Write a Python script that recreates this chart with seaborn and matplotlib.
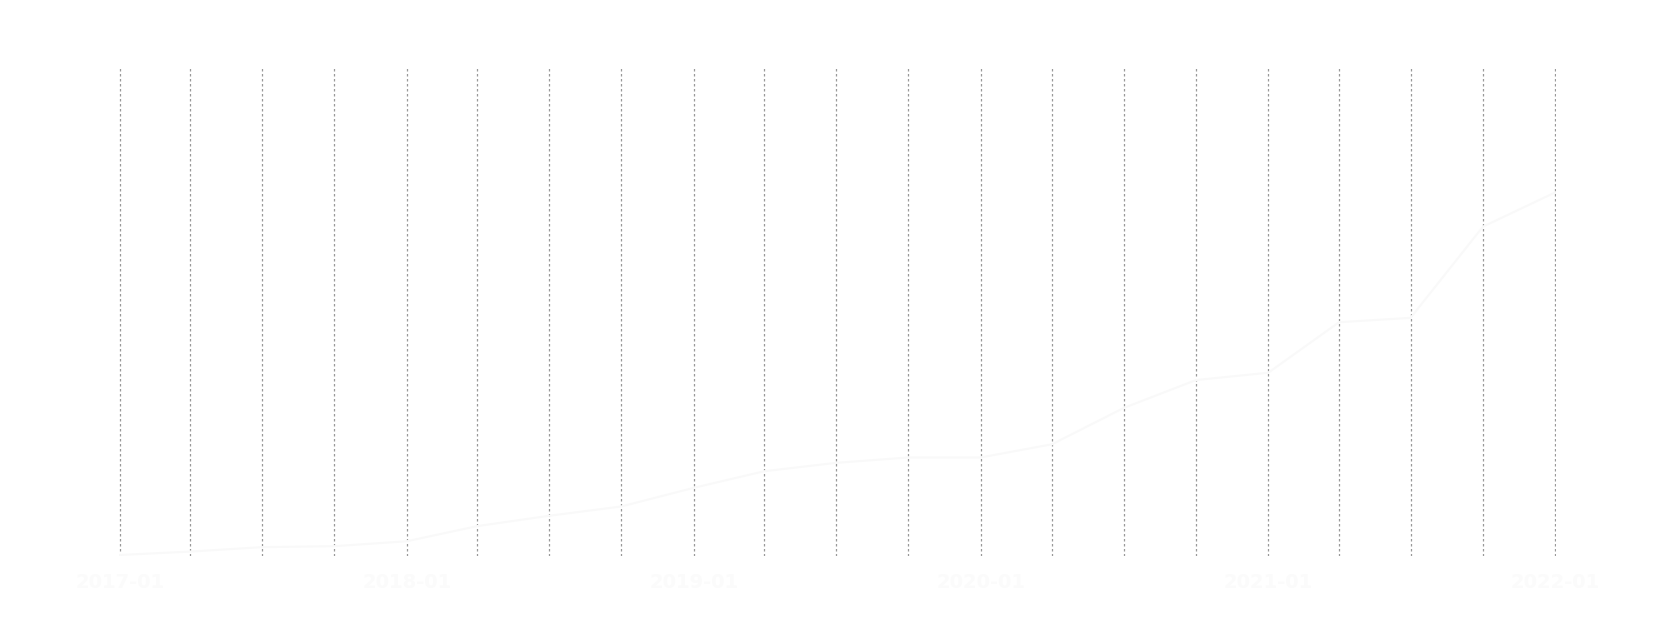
import pandas as pd
import matplotlib
matplotlib.use("Agg")
import matplotlib.pyplot as plt
import matplotlib.dates as mdates
import seaborn as sns

quarters = [
    "2017-01", "2017-04", "2017-07", "2017-10",
    "2018-01", "2018-04", "2018-07", "2018-10",
    "2019-01", "2019-04", "2019-07", "2019-10",
    "2020-01", "2020-04", "2020-07", "2020-10",
    "2021-01", "2021-04", "2021-07", "2021-10",
    "2022-01",
]
values = [
    0.2, 0.9, 1.8, 2.0,
    3.0, 6.1, 8.2, 10.1,
    13.9, 17.3, 19.0, 20.1,
    20.1, 22.8, 30.2, 35.9,
    37.4, 47.7, 48.6, 67.2,
    74.2,
]

df = pd.DataFrame({"date": pd.to_datetime(quarters), "value": values})

sns.set_style("white")

fig = plt.figure(figsize=(16.8, 6.3), dpi=100)
ax = fig.add_axes([0.0708, 0.1175, 0.8554, 0.7778])

# near-white line and labels, as in the reference (made for a dark page)
sns.lineplot(data=df, x="date", y="value", color="#f9f9f9", linewidth=1.5, ax=ax)

# a day of slack either side so the first/last grid lines are not clipped
pad = pd.Timedelta(days=1)
ax.set_xlim(df["date"].min() - pad, df["date"].max() + pad)
ax.set_ylim(0, 100)

ax.xaxis.set_major_locator(mdates.YearLocator())
ax.xaxis.set_major_formatter(mdates.DateFormatter("%Y-%m"))
ax.xaxis.set_minor_locator(mdates.MonthLocator(bymonth=[1, 4, 7, 10]))

ax.grid(True, axis="x", which="both", color="#999999", linestyle=(0, (2, 2)), linewidth=0.9)
ax.grid(False, axis="y")

ax.tick_params(axis="x", which="both", length=0, pad=12, labelsize=14, labelcolor="#fbfbfb")
for lbl in ax.get_xticklabels():
    lbl.set_fontweight("bold")
ax.set_yticks([])
ax.set_xlabel("")
ax.set_ylabel("")

sns.despine(left=True, bottom=True)

fig.savefig("out.png", dpi=100, facecolor="white")
